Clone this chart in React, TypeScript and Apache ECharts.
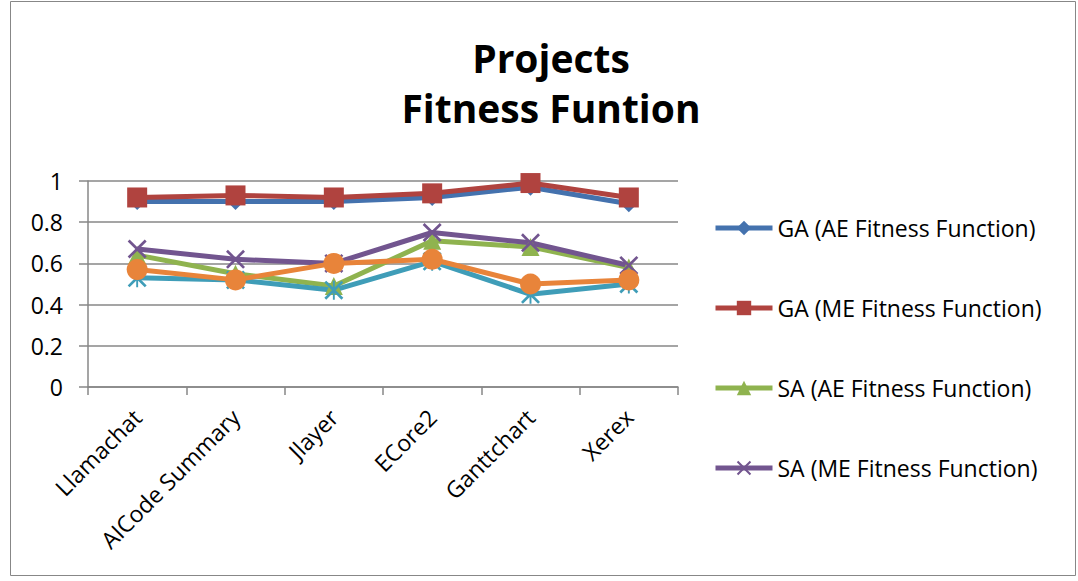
import React, { useEffect, useRef } from "react";
import * as echarts from "echarts";

const categories = ["Llamachat", "AICode Summary", "Jlayer", "ECore2", "Ganttchart", "Xerex"];
const gaAE = [0.9, 0.9, 0.9, 0.92, 0.97, 0.89];
const gaME = [0.92, 0.93, 0.92, 0.94, 0.99, 0.92];
const saAE = [0.64, 0.55, 0.49, 0.71, 0.68, 0.58];
const saME = [0.67, 0.62, 0.6, 0.75, 0.7, 0.59];
const hcAE = [0.53, 0.52, 0.47, 0.61, 0.45, 0.5];
const hcME = [0.57, 0.52, 0.6, 0.62, 0.5, 0.52];
const yTicks = [0, 0.2, 0.4, 0.6, 0.8, 1];

const X_SYMBOL = "path://M0,1 L1,0 L5,4 L9,0 L10,1 L6,5 L10,9 L9,10 L5,6 L1,10 L0,9 L4,5 Z";
const STAR_SYMBOL =
  "path://M0,1 L1,0 L5,4 L9,0 L10,1 L6,5 L10,9 L9,10 L5,6 L1,10 L0,9 L4,5 Z M4.5,0 L5.5,0 L5.5,10 L4.5,10 Z";

const FONT = "'Open Sans', 'Noto Sans', sans-serif";

export default function App() {
  const ref = useRef<HTMLDivElement>(null);
  useEffect(() => {
    if (!ref.current) return;
    const chart = echarts.init(ref.current, undefined, { renderer: "svg" });
    const mk = (name: string, data: number[], color: string, symbol: string, size: number) => ({
      name,
      type: "line",
      data,
      symbol,
      symbolSize: size,
      lineStyle: { color, width: 5 },
      itemStyle: { color },
      z: 2,
    });
    chart.setOption({
      animation: false,
      textStyle: { fontFamily: FONT },
      graphic: [
        {
          type: "rect",
          shape: { x: 10.5, y: 1.5, width: 1065, height: 574 },
          style: { fill: "none", stroke: "#878787", lineWidth: 1 },
          silent: true,
        },
      ],
      title: {
        text: "Projects\nFitness Funtion",
        left: 546,
        textAlign: "center",
        top: 27,
        textStyle: {
          fontFamily: FONT,
          fontSize: 39,
          fontWeight: "bold",
          lineHeight: 50,
          color: "#000",
        },
      },
      legend: {
        orient: "vertical",
        left: 708,
        top: 209,
        itemWidth: 57,
        itemHeight: 18,
        itemGap: 52,
        lineStyle: { width: 5 },
        data: [
          "GA (AE Fitness Function)",
          "GA (ME Fitness Function)",
          "SA (AE Fitness Function)",
          "SA (ME Fitness Function)",
        ],
        textStyle: { fontFamily: FONT, fontSize: 23, color: "#000", lineHeight: 28 },
      },
      grid: { left: 88, right: 400, top: 181, bottom: 194 },
      xAxis: {
        type: "category",
        data: categories,
        boundaryGap: true,
        axisLine: { lineStyle: { color: "#878787", width: 1.5 } },
        axisTick: { show: true, length: 8, lineStyle: { color: "#878787", width: 1.5 } },
        axisLabel: { rotate: 45, fontSize: 23, color: "#000", margin: 26, fontFamily: FONT, interval: 0 },
      },
      yAxis: {
        type: "value",
        min: 0,
        max: 1,
        interval: 0.2,
        axisLine: { show: true, lineStyle: { color: "#878787", width: 1.5 } },
        axisTick: { show: true, length: 9, lineStyle: { color: "#878787", width: 1.5 } },
        splitLine: { lineStyle: { color: "#878787", width: 1.5 } },
        axisLabel: {
          fontSize: 23,
          color: "#000",
          margin: 25,
          fontFamily: FONT,
          formatter: (v: number) => {
            const t = yTicks.find((x) => Math.abs(x - v) < 1e-9);
            return String(t ?? v);
          },
        },
      },
      series: [
        mk("GA (AE Fitness Function)", gaAE, "#4472AE", "diamond", 17),
        mk("GA (ME Fitness Function)", gaME, "#B0433F", "rect", 20),
        mk("SA (AE Fitness Function)", saAE, "#8FB34F", "triangle", 18),
        mk("SA (ME Fitness Function)", saME, "#72558F", X_SYMBOL, 19),
        mk("HC (AE Fitness Function)", hcAE, "#3F9DB8", STAR_SYMBOL, 19),
        mk("HC (ME Fitness Function)", hcME, "#E8843A", "circle", 21),
      ],
    });
    return () => chart.dispose();
  }, []);
  return (
    <div
      ref={ref}
      style={{ position: "absolute", left: 0, top: 0, width: 1078, height: 581, background: "#fff" }}
    />
  );
}
